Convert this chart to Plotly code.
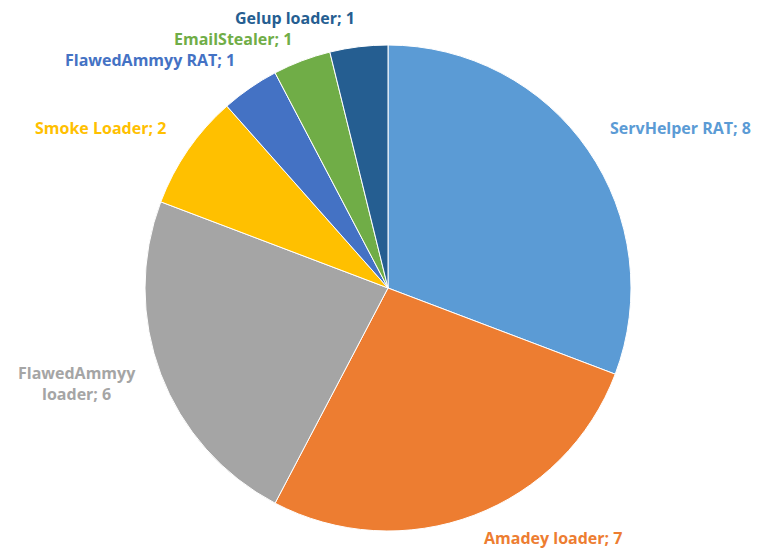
import math
import plotly.graph_objects as go

categories = ["ServHelper RAT", "Amadey loader", "FlawedAmmyy loader", "Smoke Loader",
              "FlawedAmmyy RAT", "EmailStealer", "Gelup loader"]
values = [8, 7, 6, 2, 1, 1, 1]
label_texts = ["ServHelper RAT; 8", "Amadey loader; 7", "FlawedAmmyy<br>loader; 6", "Smoke Loader; 2",
               "FlawedAmmyy RAT; 1", "EmailStealer; 1", "Gelup loader; 1"]
colors = ["#5B9BD5", "#ED7D31", "#A5A5A5", "#FFC000", "#4472C4", "#70AD47", "#255E91"]

OFF = 8  # default page body margin
W, H = 768 - OFF, 548 - OFF
cx, cy, R = 388 - OFF, 288 - OFF, 243  # pixel centre & radius in figure coords
FS = 16
LABEL_R = R + 25
HALF = 8      # half glyph height used for corner anchoring
EDGE = 10     # min distance of label centre from figure edge
GAP = 21      # min vertical spacing between overlapping labels

fig = go.Figure(go.Pie(
    labels=categories, values=values, sort=False, direction="clockwise", rotation=0,
    marker=dict(colors=colors, line=dict(color="white", width=1)),
    textinfo="none", hoverinfo="label+value", showlegend=False,
    domain=dict(x=[(cx - R) / W, (cx + R) / W], y=[(H - cy - R) / H, (H - cy + R) / H]),
))

total = sum(values)
cum = 0
labels = []
for txt, v, col in zip(label_texts, values, colors):
    mid = (cum + v / 2) / total * 2 * math.pi
    cum += v
    s, c = math.sin(mid), math.cos(mid)
    px = cx + s * LABEL_R
    py = cy - c * LABEL_R
    xanchor = "left" if s > 0.05 else ("right" if s < -0.05 else "center")
    if c > 0.5:
        py -= HALF
    elif c < -0.5:
        py += HALF
    py = min(max(py, EDGE), H - EDGE)
    wid = len(txt.split("<br>")[0]) * FS * 0.56
    x0 = px if xanchor == "left" else (px - wid if xanchor == "right" else px - wid / 2)
    labels.append(dict(txt=txt, col=col, px=px, py=py, xa=xanchor, x0=x0, x1=x0 + wid))

# simple overlap resolution: push lower labels down
order = sorted(range(len(labels)), key=lambda i: labels[i]["py"])
for a_i, i in enumerate(order):
    for j in order[:a_i]:
        A, B = labels[i], labels[j]
        if A["x0"] < B["x1"] and B["x0"] < A["x1"] and A["py"] - B["py"] < GAP:
            A["py"] = B["py"] + GAP

annotations = [dict(
    x=L["px"] / W, y=1 - L["py"] / H, xref="paper", yref="paper", text=L["txt"], showarrow=False,
    xanchor=L["xa"], yanchor="middle", align="center", borderpad=0,
    font=dict(family="Open Sans, sans-serif", size=FS, color=L["col"], weight="bold"),
) for L in labels]

fig.update_layout(
    width=W, height=H, margin=dict(l=0, r=0, t=0, b=0),
    paper_bgcolor="white", plot_bgcolor="white", annotations=annotations,
)
fig.write_html("out.html")
